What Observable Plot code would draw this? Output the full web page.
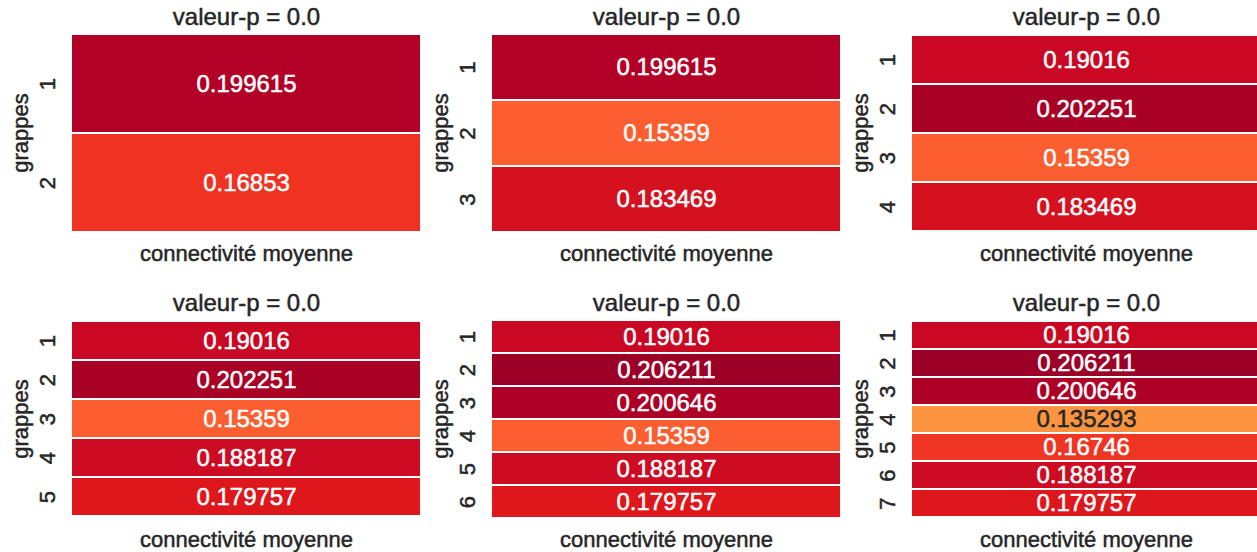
<!DOCTYPE html>
<html>
<head>
<meta charset="utf-8">
<script src="https://cdn.jsdelivr.net/npm/d3@7"></script>
<script src="https://cdn.jsdelivr.net/npm/@observablehq/plot@0.6"></script>
<style>
  body { margin: 0; background: #fff; }
  #grid { position: relative; width: 1257px; height: 552px; overflow: hidden; background: #fff; }
  #grid svg { position: absolute; }
  /* slightly heavier axis text */
  #grid g[aria-label="y-axis tick label"],
  #grid g[aria-label="y-axis label"] { stroke: #262626; stroke-width: 0.5px; paint-order: stroke; }
</style>
</head>
<body>
<div id="grid"></div>
<script>
// Mean connectivity per cluster, one list per clustering (2 to 7 clusters)
const conn2 = [0.199615, 0.16853];
const conn3 = [0.199615, 0.15359, 0.183469];
const conn4 = [0.19016, 0.202251, 0.15359, 0.183469];
const conn5 = [0.19016, 0.202251, 0.15359, 0.188187, 0.179757];
const conn6 = [0.19016, 0.206211, 0.200646, 0.15359, 0.188187, 0.179757];
const conn7 = [0.19016, 0.206211, 0.200646, 0.135293, 0.16746, 0.188187, 0.179757];
const panels = [conn2, conn3, conn4, conn5, conn6, conn7];

// p-value shown above each heatmap
const pValues = [0.0, 0.0, 0.0, 0.0, 0.0, 0.0];

const xLabel = "connectivité moyenne";
const yLabel = "grappes";

// Shared colour range (YlOrRd, piecewise-linear in RGB)
const vmin = 0.064, vmax = 0.215;
const ylorrd = ["#ffffcc", "#ffeda0", "#fed976", "#feb24c", "#fd8d3c", "#fc4e2a", "#e31a1c", "#bd0026", "#800026"];
const stops = ylorrd.map((_, i) => vmin + (vmax - vmin) * i / (ylorrd.length - 1));
const cmap = d3.scaleLinear().domain(stops).range(ylorrd).interpolate(d3.interpolateRgb).clamp(true);

// Dark annotation text on light cells, white on dark ones
function isLight(v) {
  const c = d3.rgb(cmap(v));
  const lin = u => { u /= 255; return u <= 0.03928 ? u / 12.92 : Math.pow((u + 0.055) / 1.055, 2.4); };
  return 0.2126 * lin(c.r) + 0.7152 * lin(c.g) + 0.0722 * lin(c.b) > 0.408;
}

const ink = "#262626";
const grid = document.getElementById("grid");

panels.forEach((vals, i) => {
  const rows = vals.map((v, j) => ({cluster: String(j + 1), value: v, measure: xLabel}));
  const chart = Plot.plot({
    width: 420,
    height: 286,
    marginLeft: 72,
    marginRight: 0,
    marginTop: 33,
    marginBottom: 54,
    style: {fontFamily: "'Liberation Sans', Arial, sans-serif", color: ink, background: "white", overflow: "visible"},
    x: {domain: [xLabel], padding: 0, axis: null},
    y: {domain: rows.map(d => d.cluster), padding: 0},
    color: {type: "linear", domain: stops, range: ylorrd, interpolate: "rgb", clamp: true},
    marks: [
      Plot.cell(rows, {x: "measure", y: "cluster", fill: "value", insetTop: 1, insetBottom: 1}),
      Plot.text(rows, {filter: d => !isLight(d.value), x: "measure", y: "cluster", text: d => String(d.value),
                       fill: "white", stroke: "white", strokeWidth: 0.5, fontSize: 24}),
      Plot.text(rows, {filter: d => isLight(d.value), x: "measure", y: "cluster", text: d => String(d.value),
                       fill: ink, stroke: ink, strokeWidth: 0.5, fontSize: 24}),
      Plot.axisY({tickSize: 0, tickRotate: -90, tickPadding: 18, fontSize: 22, fill: ink,
                  label: yLabel, labelAnchor: "center", labelArrow: "none", labelOffset: 60}),
      Plot.text([`valeur-p = ${pValues[i].toFixed(1)}`], {frameAnchor: "top", dy: -9, lineAnchor: "bottom",
                 fontSize: 24, fill: ink, stroke: ink, strokeWidth: 0.5}),
      Plot.text([xLabel], {frameAnchor: "bottom", dy: 28, fontSize: 22, fill: ink, stroke: ink, strokeWidth: 0.5})
    ]
  });
  chart.style.left = `${(i % 3) * 420}px`;
  chart.style.top = `${Math.floor(i / 3) * 286}px`;
  grid.appendChild(chart);
});
</script>
</body>
</html>
